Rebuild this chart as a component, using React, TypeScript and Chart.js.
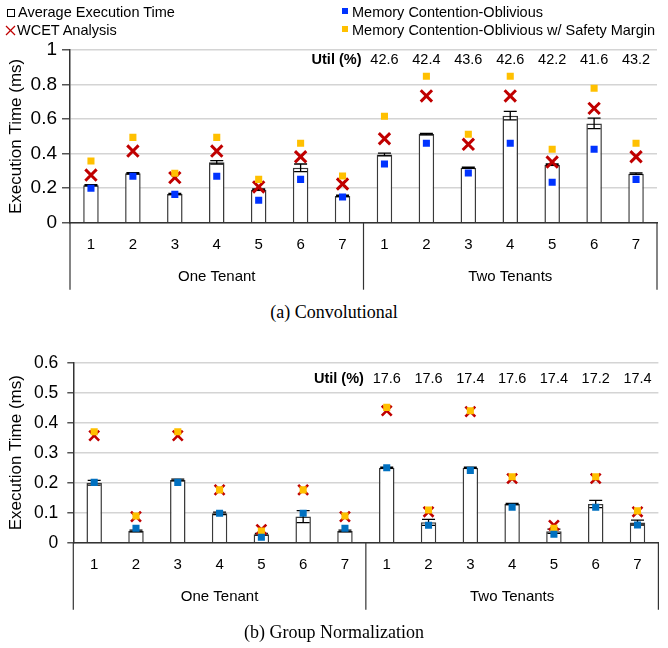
import React, { useEffect, useRef } from 'react';
import { Chart, registerables } from 'chart.js';

Chart.register(...registerables);

// ---------- data ----------
const categories = ['1', '2', '3', '4', '5', '6', '7', '1', '2', '3', '4', '5', '6', '7'];
const groups = ['One Tenant', 'Two Tenants'];
const utilLabel = 'Util (%)';

// (a) Convolutional
const convAvg = [0.217, 0.286, 0.166, 0.35, 0.191, 0.318, 0.155, 0.395, 0.513, 0.318, 0.62, 0.336, 0.575, 0.284];
const convErr = [0.004, 0.004, 0.004, 0.01, 0.004, 0.022, 0.004, 0.008, 0.004, 0.004, 0.025, 0.004, 0.03, 0.004];
const convOblivious = [0.199, 0.269, 0.164, 0.269, 0.13, 0.251, 0.149, 0.34, 0.46, 0.288, 0.46, 0.234, 0.425, 0.251];
const convWcet = [0.276, 0.415, 0.261, 0.415, 0.207, 0.382, 0.224, 0.486, 0.734, 0.454, 0.734, 0.351, 0.662, 0.382];
const convMargin = [0.357, 0.494, 0.286, 0.494, 0.251, 0.46, 0.27, 0.616, 0.848, 0.512, 0.848, 0.425, 0.778, 0.46];
const convUtil = [42.6, 42.4, 43.6, 42.6, 42.2, 41.6, 43.2];

// (b) Group Normalization
const gnAvg = [0.2, 0.039, 0.209, 0.098, 0.028, 0.087, 0.039, 0.25, 0.068, 0.25, 0.129, 0.038, 0.129, 0.067];
const gnErr = [0.008, 0.003, 0.003, 0.004, 0.003, 0.02, 0.003, 0.002, 0.01, 0.002, 0.002, 0.007, 0.012, 0.008];
const gnOblivious = [0.201, 0.048, 0.201, 0.098, 0.018, 0.098, 0.048, 0.25, 0.058, 0.241, 0.118, 0.028, 0.118, 0.059];
const gnWcet = [0.357, 0.087, 0.357, 0.176, 0.044, 0.176, 0.087, 0.44, 0.103, 0.437, 0.214, 0.058, 0.214, 0.103];
const gnMargin = [0.37, 0.089, 0.37, 0.176, 0.039, 0.176, 0.089, 0.451, 0.109, 0.44, 0.22, 0.048, 0.22, 0.106];
const gnUtil = [17.6, 17.6, 17.4, 17.6, 17.4, 17.2, 17.4];

const SANS = '"Liberation Sans", Arial, sans-serif';
const SERIF = '"Liberation Serif", "Times New Roman", serif';
const RED = '#c00000';
const YELLOW = '#ffc000';

type Panel = {
  avg: number[];
  err: number[];
  oblivious: number[];
  wcet: number[];
  margin: number[];
  util: number[];
  utilY: number;
  max: number;
  step: number;
  blue: string;
  yWidth: number;
  padTop: number;
  padRight: number;
  xHeight: number;
  tickFont: number;
  tickLen: number;
  tickPad: number;
  sqR: number;
  xR: number;
  xW: number;
};

function makeChart(canvas: HTMLCanvasElement, p: Panel) {
  const cap = 6.5;
  const decor = {
    id: 'decor',
    afterDatasetDraw(chart: any, args: any) {
      if (args.index !== 0) return;
      const meta = chart.getDatasetMeta(0);
      const ys = chart.scales.y;
      const ctx = chart.ctx;
      ctx.save();
      ctx.strokeStyle = '#000';
      ctx.lineWidth = 1.3;
      meta.data.forEach((el: any, i: number) => {
        const v = p.avg[i];
        const e = p.err[i];
        const x = el.x;
        const yt = ys.getPixelForValue(v + e);
        const yb = ys.getPixelForValue(v - e);
        ctx.beginPath();
        ctx.moveTo(x, yt);
        ctx.lineTo(x, yb);
        ctx.moveTo(x - cap, yt);
        ctx.lineTo(x + cap, yt);
        ctx.moveTo(x - cap, yb);
        ctx.lineTo(x + cap, yb);
        ctx.stroke();
      });
      ctx.restore();
    },
    afterDraw(chart: any) {
      const ctx = chart.ctx;
      const xs = chart.scales.x;
      const ys = chart.scales.y;
      const area = chart.chartArea;
      const mid = (xs.getPixelForValue(6) + xs.getPixelForValue(7)) / 2;
      ctx.save();
      ctx.strokeStyle = '#333';
      ctx.lineWidth = 1.2;
      [area.left, mid, area.right].forEach((x: number) => {
        ctx.beginPath();
        ctx.moveTo(x, area.bottom);
        ctx.lineTo(x, area.bottom + 67);
        ctx.stroke();
      });
      ctx.fillStyle = '#000';
      ctx.textAlign = 'center';
      ctx.textBaseline = 'middle';
      ctx.font = `15px ${SANS}`;
      ctx.fillText(groups[0], (area.left + mid) / 2, area.bottom + 54);
      ctx.fillText(groups[1], (mid + area.right) / 2, area.bottom + 54);
      // util row
      const uy = ys.getPixelForValue(p.utilY);
      ctx.font = `bold 14.5px ${SANS}`;
      ctx.textAlign = 'right';
      ctx.fillText(utilLabel, mid - 2, uy);
      ctx.font = `14.5px ${SANS}`;
      ctx.textAlign = 'center';
      p.util.forEach((u, i) => {
        ctx.fillText(u.toFixed(1), xs.getPixelForValue(7 + i), uy);
      });
      ctx.restore();
    },
  };

  return new Chart(canvas, {
    type: 'bar',
    data: {
      labels: categories,
      datasets: [
        {
          type: 'bar',
          label: 'Average Execution Time',
          data: p.avg,
          backgroundColor: '#ffffff',
          borderColor: '#3a3a3a',
          borderWidth: 1.5,
          barPercentage: 0.37,
          categoryPercentage: 1,
          order: 4,
        },
        {
          type: 'line',
          label: 'WCET Analysis',
          data: p.wcet,
          showLine: false,
          pointStyle: 'crossRot',
          pointRadius: p.xR,
          pointBorderWidth: p.xW,
          pointBorderColor: RED,
          pointBackgroundColor: RED,
          order: 3,
        },
        {
          type: 'line',
          label: 'Memory Contention-Oblivious w/ Safety Margin',
          data: p.margin,
          showLine: false,
          pointStyle: 'rect',
          pointRadius: p.sqR,
          pointBorderWidth: 0,
          pointBackgroundColor: YELLOW,
          pointBorderColor: YELLOW,
          order: 2,
        },
        {
          type: 'line',
          label: 'Memory Contention-Oblivious',
          data: p.oblivious,
          showLine: false,
          pointStyle: 'rect',
          pointRadius: p.sqR,
          pointBorderWidth: 0,
          pointBackgroundColor: p.blue,
          pointBorderColor: p.blue,
          order: 1,
        },
      ] as any,
    },
    options: {
      responsive: false,
      animation: false,
      events: [],
      layout: { padding: { top: p.padTop, right: p.padRight, left: 0, bottom: 0 } },
      plugins: { legend: { display: false }, tooltip: { enabled: false } },
      scales: {
        x: {
          grid: { display: false, drawTicks: false },
          border: { color: '#333', width: 1.5 },
          ticks: { font: { family: SANS, size: 15 }, color: '#000', padding: 13, autoSkip: false, maxRotation: 0 },
          afterFit(s: any) {
            s.height = p.xHeight;
          },
        },
        y: {
          min: 0,
          max: p.max,
          ticks: {
            stepSize: p.step,
            font: { family: SANS, size: p.tickFont },
            color: '#000',
            padding: p.tickPad,
            callback: (v: any) => String(Number(Number(v).toFixed(2))),
          },
          grid: { color: '#d4d4d4', lineWidth: 1.5, tickLength: p.tickLen, tickColor: '#555', drawTicks: true },
          border: { color: '#333', width: 1.5 },
          title: {
            display: true,
            text: 'Execution Time (ms)',
            font: { family: SANS, size: 17 },
            color: '#000',
            padding: { top: 6, bottom: 0 },
          },
          afterFit(s: any) {
            s.width = p.yWidth;
          },
        },
      },
    },
    plugins: [decor],
  } as any);
}

function ChartCanvas({ p, top }: { p: Panel; top: number }) {
  const ref = useRef<HTMLCanvasElement | null>(null);
  useEffect(() => {
    if (!ref.current) return;
    const c = makeChart(ref.current, p);
    return () => c.destroy();
  }, []);
  return <canvas ref={ref} width={668} height={300} style={{ position: 'absolute', left: 0, top, width: 668, height: 300 }} />;
}

const panelA: Panel = {
  avg: convAvg,
  err: convErr,
  oblivious: convOblivious,
  wcet: convWcet,
  margin: convMargin,
  util: convUtil,
  utilY: 0.942,
  max: 1,
  step: 0.2,
  blue: '#0033ff',
  yWidth: 70,
  padTop: 50,
  padRight: 6,
  xHeight: 77.3,
  tickFont: 19,
  tickLen: 8,
  tickPad: 5,
  sqR: 5,
  xR: 8,
  xW: 3,
};

const panelB: Panel = {
  avg: gnAvg,
  err: gnErr,
  oblivious: gnOblivious,
  wcet: gnWcet,
  margin: gnMargin,
  util: gnUtil,
  utilY: 0.545,
  max: 0.6,
  step: 0.1,
  blue: '#0070c0',
  yWidth: 73.3,
  padTop: 32.7,
  padRight: 2,
  xHeight: 87.3,
  tickFont: 17.5,
  tickLen: 6,
  tickPad: 9,
  sqR: 5,
  xR: 7,
  xW: 2.6,
};

function Legend() {
  const text: React.CSSProperties = {
    position: 'absolute',
    fontFamily: SANS,
    fontSize: 14.5,
    lineHeight: '18px',
    color: '#000',
    whiteSpace: 'nowrap',
  };
  return (
    <>
      <div style={{ position: 'absolute', left: 7, top: 9, width: 6, height: 6, border: '1px solid #000', background: '#fff' }} />
      <div style={{ ...text, left: 18, top: 3 }}>Average Execution Time</div>
      <svg style={{ position: 'absolute', left: 5, top: 25 }} width={11} height={11}>
        <line x1={1} y1={1} x2={10} y2={10} stroke={RED} strokeWidth={1.3} />
        <line x1={10} y1={1} x2={1} y2={10} stroke={RED} strokeWidth={1.3} />
      </svg>
      <div style={{ ...text, left: 17, top: 21 }}>WCET Analysis</div>
      <div style={{ position: 'absolute', left: 342, top: 8, width: 6, height: 6, background: '#0033ff' }} />
      <div style={{ ...text, left: 352, top: 3 }}>Memory Contention-Oblivious</div>
      <div style={{ position: 'absolute', left: 342, top: 26, width: 6, height: 6, background: YELLOW }} />
      <div style={{ ...text, left: 352, top: 21 }}>Memory Contention-Oblivious w/ Safety Margin</div>
    </>
  );
}

export default function App() {
  const caption: React.CSSProperties = {
    position: 'absolute',
    left: 0,
    width: 668,
    textAlign: 'center',
    fontFamily: SERIF,
    fontSize: 18,
    lineHeight: '22px',
    color: '#000',
  };
  return (
    <div style={{ position: 'absolute', left: 0, top: 0, width: 668, height: 648, background: '#fff', overflow: 'hidden' }}>
      <ChartCanvas p={panelA} top={0} />
      <ChartCanvas p={panelB} top={330} />
      <Legend />
      <div style={{ ...caption, top: 301 }}>(a) Convolutional</div>
      <div style={{ ...caption, top: 621 }}>(b) Group Normalization</div>
    </div>
  );
}
